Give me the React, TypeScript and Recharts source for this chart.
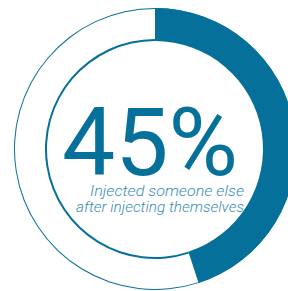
import React from 'react';
import { PieChart, Pie, Cell } from 'recharts';

const categories = ['Injected someone else after injecting themselves', 'Other'];
const values = [45, 55];
const headline = '45%';
const captionLines = ['Injected someone else', 'after injecting themselves'];
const captionWidths = [154, 168];

const BLUE = '#05709a';
const data = categories.map((name, i) => ({ name, value: values[i] }));

export default function App() {
  return (
    <div style={{ position: 'absolute', left: 0, top: 0, width: 288, height: 291, background: '#fff' }}>
      <PieChart width={288} height={291} margin={{ top: 0, right: 0, bottom: 0, left: 0 }}>
        <Pie
          data={data}
          dataKey="value"
          cx={155}
          cy={149}
          innerRadius={140}
          outerRadius={141}
          startAngle={90}
          endAngle={-270}
          stroke="none"
          isAnimationActive={false}
        >
          {data.map((d, i) => (
            <Cell key={'o' + i} fill={BLUE} />
          ))}
        </Pie>
        <Pie
          data={data}
          dataKey="value"
          cx={155}
          cy={149}
          innerRadius={108}
          outerRadius={110}
          startAngle={90}
          endAngle={-270}
          stroke="none"
          isAnimationActive={false}
        >
          {data.map((d, i) => (
            <Cell key={'i' + i} fill={BLUE} />
          ))}
        </Pie>
        <Pie
          data={data}
          dataKey="value"
          cx={155}
          cy={149}
          innerRadius={109}
          outerRadius={141}
          startAngle={90}
          endAngle={-270}
          stroke="none"
          isAnimationActive={false}
        >
          {data.map((d, i) => (
            <Cell key={'m' + i} fill={i === 0 ? BLUE : 'transparent'} />
          ))}
        </Pie>
        <text
          x={150}
          y={175}
          textAnchor="middle"
          fontFamily="Roboto, 'Noto Sans', sans-serif"
          fontWeight={400}
          fontSize={94}
          textLength={176}
          lengthAdjust="spacingAndGlyphs"
          fill={BLUE}
        >
          {headline}
        </text>
        {captionLines.map((line, i) => (
          <text
            key={line}
            x={244}
            y={196 + i * 16}
            textAnchor="end"
            fontFamily="Roboto, 'Noto Sans', sans-serif"
            fontStyle="italic"
            fontWeight={300}
            fontSize={14}
            textLength={captionWidths[i]}
            lengthAdjust="spacingAndGlyphs"
            fill="#3a8db4"
          >
            {line}
          </text>
        ))}
      </PieChart>
    </div>
  );
}
